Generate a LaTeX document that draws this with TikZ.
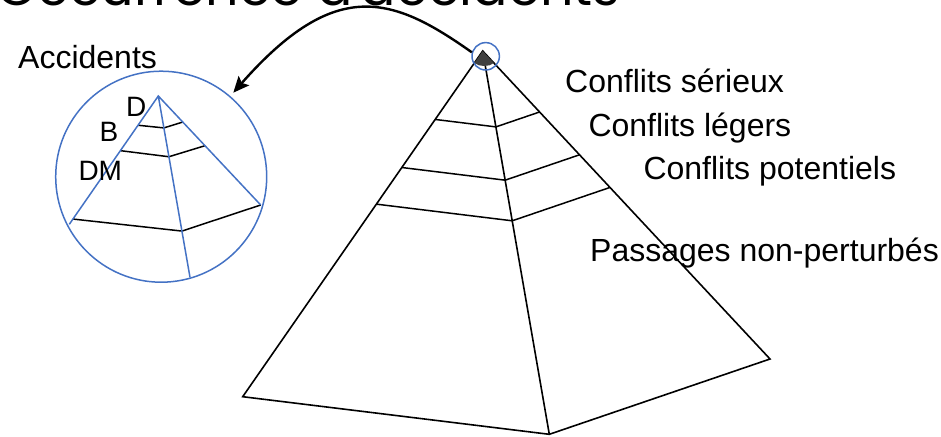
\documentclass[tikz,border=0pt]{standalone}
\usepackage{fontspec}
\setmainfont{Liberation Sans}
\newfontfamily\titlefont{Poppins}
\usetikzlibrary{arrows.meta,calc}
\definecolor{zoomblue}{HTML}{4472C4}
\begin{document}
\begin{tikzpicture}[x=1pt,y=-1pt,
  edge/.style={line width=1.6pt},
  tier/.style={line width=1.5pt},
  zoomline/.style={draw=zoomblue,line width=1.5pt},
  lbl/.style={anchor=base west,inner sep=0pt,font=\fontsize{32}{38}\selectfont},
  smalllbl/.style={anchor=base west,inner sep=0pt,font=\fontsize{28}{34}\selectfont}]
\useasboundingbox (0,0) rectangle (941,436);
\clip (0,0) rectangle (941,436);
% title, cut off at the top
\node[anchor=base west,inner sep=0pt] (title) at (-4,6) {\resizebox{624pt}{!}{\titlefont Occurrence d'accidents}};
% big pyramid
\coordinate (top) at (482.7,51);
\coordinate (lb) at (242.7,396.7);
\coordinate (fb) at (549.3,434.3);
\coordinate (rb) at (770,359);
\draw[edge] (top) -- (lb) -- (fb) -- (rb) -- cycle;
\draw[edge] (top) -- (fb);
\draw[tier] ($(top)!0.198!(lb)$) -- ($(top)!0.198!(fb)$) -- ($(top)!0.198!(rb)$);
\draw[tier] ($(top)!0.337!(lb)$) -- ($(top)!0.337!(fb)$) -- ($(top)!0.337!(rb)$);
\draw[tier] ($(top)!0.443!(lb)$) -- ($(top)!0.443!(fb)$) -- ($(top)!0.443!(rb)$);
\fill[black!75] (top) -- ($(top)!0.035!(lb)$) .. controls (480,67) and (489,67) .. ($(top)!0.039!(rb)$) -- cycle;
\node[circle,zoomline,minimum size=27.4pt,inner sep=0pt] (spot) at (485.7,56.3) {};
% zoomed top
\node[circle,zoomline,minimum size=211pt,inner sep=0pt] (lens) at (161.2,176.7) {};
\coordinate (stop) at (158.3,96);
\coordinate (sl) at (69.3,224.3);
\coordinate (sc) at (190,277.3);
\coordinate (sr) at (260.7,205);
\draw[tier] ($(stop)!0.228!(sl)$) -- ($(stop)!0.176!(sc)$) -- ($(stop)!0.239!(sr)$);
\draw[tier] ($(stop)!0.426!(sl)$) -- ($(stop)!0.335!(sc)$) -- ($(stop)!0.456!(sr)$);
\draw[tier] ($(stop)!0.959!(sl)$) -- ($(stop)!0.745!(sc)$) -- (sr);
\draw[zoomline] (sl) -- (stop) -- (sr) (stop) -- (sc);
\coordinate (tip) at (233.3,92.7);
\draw[line width=2.4pt,-{Stealth[length=16pt,width=14pt,inset=3pt]}] (spot.164) .. controls (393,-3.5) and (336,-24) .. (tip);
% labels
\node[lbl] (accidents) at (18,68.3) {Accidents};
\node[smalllbl] (deces) at (126,116) {D};
\node[smalllbl] (blesses) at (99.3,141) {B};
\node[smalllbl] (degats) at (78.3,180) {DM};
\node[lbl] (serieux) at (565,92.7) {Conflits sérieux};
\node[lbl] (legers) at (588.3,136) {Conflits légers};
\node[lbl] (potentiels) at (643.3,179.3) {Conflits potentiels};
\node[lbl] (passages) at (590,261.7) {Passages non-perturbés};
\end{tikzpicture}
\end{document}
